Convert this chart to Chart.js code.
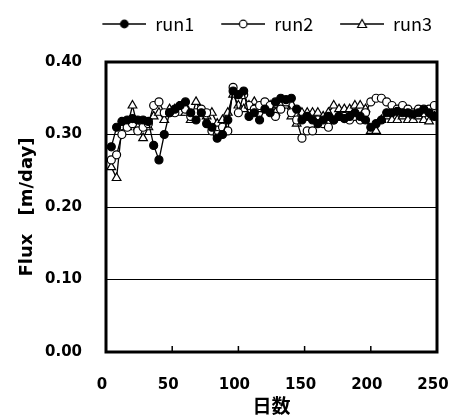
<!DOCTYPE html>
<html>
<head>
<meta charset="utf-8">
<script src="https://cdn.jsdelivr.net/npm/chart.js@4.4.1/dist/chart.umd.min.js"></script>
<style>
  html, body { margin: 0; padding: 0; background: #fff; }
  #wrap { width: 449px; height: 417px; position: relative; }
</style>
</head>
<body>
<div id="wrap"><canvas id="c"></canvas></div>
<script>
// data (day, flux in m/day)
const days = [4,8,12,16,20,24,28,32,36,40,44,48,52,56,60,64,68,72,76,80,84,88,92,96,100,
  104,108,112,116,120,124,128,132,136,140,144,148,152,156,160,164,168,172,176,180,184,188,
  192,196,200,204,208,212,216,220,224,228,232,236,240,244,248];
const run1 = [0.283,0.310,0.318,0.320,0.322,0.320,0.320,0.318,0.285,0.265,0.300,0.330,0.335,
  0.340,0.345,0.330,0.320,0.330,0.315,0.310,0.295,0.300,0.320,0.360,0.355,0.360,0.325,0.330,
  0.320,0.335,0.330,0.345,0.350,0.348,0.350,0.335,0.320,0.325,0.320,0.315,0.320,0.325,0.320,
  0.325,0.322,0.325,0.330,0.325,0.320,0.310,0.315,0.320,0.330,0.330,0.332,0.330,0.330,0.328,
  0.330,0.335,0.330,0.325];
const run2 = [0.265,0.272,0.300,0.310,0.315,0.305,0.310,0.315,0.340,0.345,0.330,0.330,0.330,
  0.340,0.335,0.325,0.330,0.335,0.330,0.305,0.300,0.310,0.305,0.365,0.330,0.355,0.340,0.335,
  0.340,0.345,0.340,0.325,0.335,0.345,0.330,0.320,0.295,0.305,0.305,0.320,0.315,0.310,0.320,
  0.325,0.325,0.320,0.325,0.320,0.330,0.345,0.350,0.350,0.345,0.340,0.335,0.340,0.335,0.330,
  0.335,0.330,0.335,0.340];
const run3 = [0.255,0.240,0.310,0.310,0.340,0.310,0.295,0.310,0.325,0.330,0.320,0.335,0.335,
  0.330,0.330,0.320,0.345,0.330,0.325,0.330,0.315,0.320,0.330,0.355,0.340,0.335,0.340,0.345,
  0.335,0.340,0.340,0.330,0.340,0.340,0.325,0.315,0.330,0.330,0.330,0.330,0.325,0.330,0.340,
  0.335,0.335,0.335,0.340,0.340,0.335,0.305,0.305,0.320,0.325,0.320,0.320,0.325,0.320,0.320,
  0.325,0.320,0.318,0.325];
const seriesNames = ['run1', 'run2', 'run3'];
const yTicks = [0, 0.1, 0.2, 0.3, 0.4];
const xTicks = [0, 50, 100, 150, 200, 250];

const TICK_FONT = { family: '"DejaVu Sans", sans-serif', size: 15, weight: 'bold' };
const ICON_GAP = 22; // blank space before each legend line

// legend icon: short line with the marker in the middle
function legendIcon(style, fill){
  const c = document.createElement('canvas');
  c.width = ICON_GAP + 44; c.height = 12;
  const g = c.getContext('2d');
  const x0 = ICON_GAP, cx = ICON_GAP + 22;
  g.strokeStyle = '#000'; g.lineWidth = 1.3;
  g.beginPath(); g.moveTo(x0, 6); g.lineTo(x0 + 44, 6); g.stroke();
  g.fillStyle = fill; g.lineWidth = 1.2;
  g.beginPath();
  if(style === 'triangle'){
    g.moveTo(cx, 1.5); g.lineTo(cx + 4.5, 9.5); g.lineTo(cx - 4.5, 9.5); g.closePath();
  } else {
    g.arc(cx, 6, 3.8, 0, Math.PI*2);
  }
  g.fill(); g.stroke();
  return c;
}

function series(label, vals, style, fill){
  return {
    label,
    data: days.map((d,i) => ({x: d, y: vals[i]})),
    borderColor: '#000',
    borderWidth: 1.3,
    pointStyle: style,
    pointRadius: style === 'triangle' ? 5 : 4,
    pointBackgroundColor: fill,
    pointBorderColor: '#000',
    pointBorderWidth: 1.2,
    tension: 0,
    legendIcon: legendIcon(style, fill)
  };
}

// frame round the plot and small inside ticks on the x axis
const frame = {
  id: 'frame',
  afterDatasetsDraw(chart){
    const {ctx, chartArea: a, scales: {x}} = chart;
    ctx.save();
    ctx.strokeStyle = '#000';
    ctx.lineWidth = 1.5;
    xTicks.slice(1, -1).forEach(v => {
      const px = x.getPixelForValue(v);
      ctx.beginPath(); ctx.moveTo(px, a.bottom); ctx.lineTo(px, a.bottom - 6); ctx.stroke();
    });
    ctx.lineWidth = 3;
    ctx.strokeRect(a.left, a.top, a.right - a.left, a.bottom - a.top);
    ctx.restore();
  }
};

// fixes the legend band height so the plot starts where the reference does
const legendBand = {
  id: 'legendBand',
  beforeLayout(chart){
    const lg = chart.legend;
    if(lg && !lg._banded){
      const fit = lg.fit;
      lg.fit = function(){ fit.call(this); this.height = 52; };
      lg._banded = true;
    }
  }
};

new Chart(document.getElementById('c'), {
  type: 'line',
  data: {
    datasets: [
      series(seriesNames[0], run1, 'circle', '#000'),
      series(seriesNames[1], run2, 'circle', '#fff'),
      series(seriesNames[2], run3, 'triangle', '#fff')
    ]
  },
  options: {
    responsive: true,
    maintainAspectRatio: false,
    animation: false,
    layout: { padding: { left: 0, right: 12, top: 10, bottom: 0 } },
    plugins: {
      legend: {
        position: 'top',
        align: 'end',
        labels: {
          usePointStyle: true,
          pointStyleWidth: ICON_GAP + 44,
          padding: 5,
          color: '#000',
          font: { family: '"Noto Sans CJK JP", sans-serif', size: 18 },
          generateLabels: (chart) => chart.data.datasets.map((ds, i) => ({
            text: ds.label,
            pointStyle: ds.legendIcon,
            fillStyle: '#fff',
            strokeStyle: '#000',
            lineWidth: 0,
            datasetIndex: i,
            hidden: false
          }))
        }
      },
      tooltip: { enabled: false }
    },
    scales: {
      x: {
        type: 'linear',
        min: 0, max: 250,
        afterBuildTicks: s => { s.ticks = xTicks.map(v => ({value: v})); },
        afterFit: s => { s.height = 65; s.paddingLeft = 0; s.paddingRight = 0; },
        grid: { display: false, drawTicks: false },
        border: { display: false },
        ticks: { color: '#000', font: TICK_FONT, padding: 24, maxRotation: 0, labelOffset: -4 },
        title: {
          display: true, text: '日数', color: '#000',
          font: { family: '"Noto Sans CJK JP", sans-serif', size: 19, weight: 'bold' },
          padding: { top: 0, bottom: 0 }
        }
      },
      y: {
        min: 0, max: 0.4,
        afterBuildTicks: s => { s.ticks = yTicks.map(v => ({value: v})); },
        afterFit: s => { s.width = 106; },
        grid: { color: '#000', lineWidth: 1, drawTicks: false },
        border: { display: false },
        ticks: { color: '#000', font: TICK_FONT, padding: 24, callback: v => Number(v).toFixed(2) },
        title: {
          display: true, text: 'Flux\u3000[m/day]', color: '#000',
          font: { family: '"DejaVu Sans", "Noto Sans CJK JP", sans-serif', size: 18, weight: 'bold' },
          padding: { top: 17, bottom: 0 }
        }
      }
    }
  },
  plugins: [legendBand, frame]
});
</script>
</body>
</html>
